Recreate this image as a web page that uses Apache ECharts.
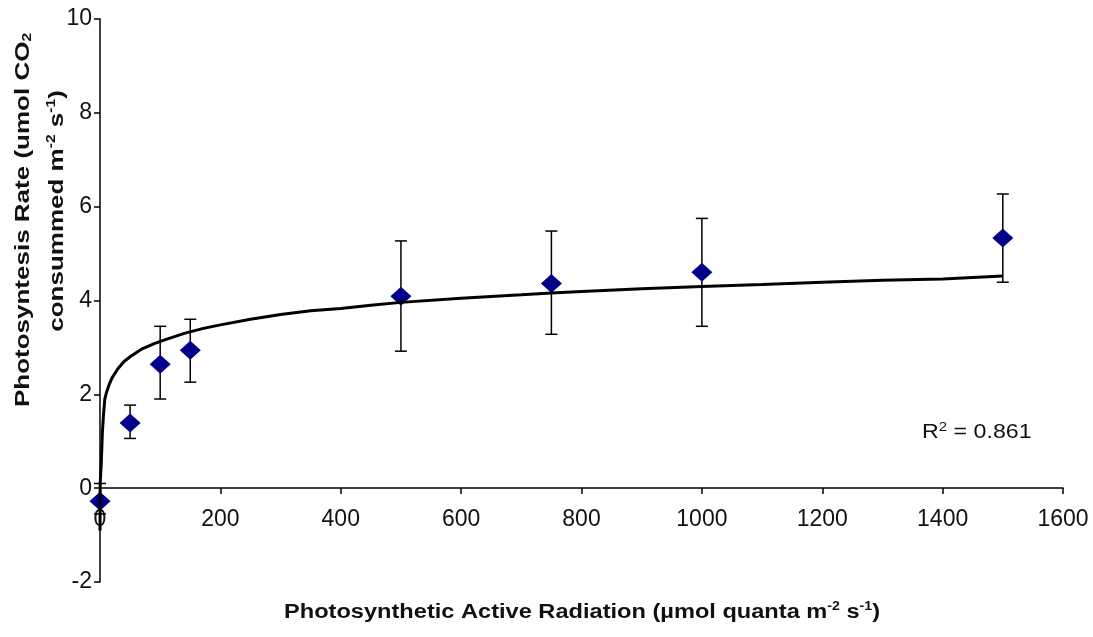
<!DOCTYPE html>
<html><head><meta charset="utf-8">
<script src="https://cdn.jsdelivr.net/npm/echarts@6/dist/echarts.min.js"></script>
<style>html,body{margin:0;padding:0;background:#fff}#c{width:1093px;height:637px}</style>
</head><body><div id="c"></div>
<script>
// Measured points
const parX = [0, 50, 100, 150, 500, 750, 1000, 1500];
const rateMean = [-0.28, 1.39, 2.64, 2.94, 4.09, 4.36, 4.60, 5.33];
const errLow = [-0.55, 1.06, 1.90, 2.26, 2.92, 3.28, 3.45, 4.39];
const errHigh = [0.10, 1.77, 3.45, 3.60, 5.27, 5.48, 5.75, 6.27];
// Trendline
const trendX = [0.02, 0.3, 2, 4, 6, 8, 11, 15, 20, 30, 40, 50, 70, 90, 110, 140, 170, 200, 250, 300, 350, 400, 450, 500, 600, 700, 750, 800, 900, 1000, 1100, 1200, 1300, 1400, 1500];
const trendY = [-0.9, 0.1, 0.5, 1.2, 1.6, 1.9, 2.05, 2.2, 2.35, 2.55, 2.7, 2.8, 2.97, 3.08, 3.17, 3.3, 3.4, 3.48, 3.6, 3.7, 3.78, 3.83, 3.9, 3.96, 4.05, 4.12, 4.16, 4.19, 4.25, 4.3, 4.34, 4.39, 4.43, 4.46, 4.52];
const xTicks = {min: 0, max: 1600, step: 200};
const yTicks = {min: -2, max: 10, step: 2};
const r2Label = 'R{sup|2} = 0.861';
const xTitle = 'Photosynthetic Active Radiation (\u00b5mol quanta m{sup|-2} s{sup|-1})';
const yTitle1 = 'Photosyntesis Rate (umol CO{sub|2}';
const yTitle2 = 'consummed m{sup|-2} s{sup|-1})';

const FONT = '"Liberation Sans", Arial, sans-serif';
const chart = echarts.init(document.getElementById('c'));
const supRich = {
  sup: {fontSize: 13, fontFamily: FONT, padding: [0, 0, 10, 0]},
  sub: {fontSize: 13, fontFamily: FONT, padding: [10, 0, 0, 0]}
};
const supRichBold = {
  sup: {fontSize: 12, fontWeight: 'bold', fontFamily: FONT, padding: [0, 0, 10, 0]},
  sub: {fontSize: 12, fontWeight: 'bold', fontFamily: FONT, padding: [10, 0, 0, 0]}
};
const option = {
  animation: false,
  backgroundColor: '#fff',
  grid: {left: 100, right: 30, top: 19, bottom: 55},
  xAxis: {
    type: 'value', min: xTicks.min, max: xTicks.max, interval: xTicks.step,
    offset: -94,
    axisLine: {onZero: false, lineStyle: {color: '#000', width: 1.5}},
    axisTick: {show: true, inside: false, length: 6, lineStyle: {color: '#000', width: 1.5}},
    axisLabel: {margin: 20, color: '#111', fontSize: 23, fontFamily: FONT, formatter: v => String(v)},
    splitLine: {show: false}
  },
  yAxis: {
    type: 'value', min: yTicks.min, max: yTicks.max, interval: yTicks.step,
    axisLine: {show: true, onZero: false, lineStyle: {color: '#000', width: 1.5}},
    axisTick: {show: true, inside: false, length: 6, lineStyle: {color: '#000', width: 1.5}},
    axisLabel: {margin: 8, color: '#111', fontSize: 23, fontFamily: FONT, formatter: v => String(v)},
    splitLine: {show: false}
  },
  graphic: [
    {type: 'text', x: 23, y: 220, rotation: Math.PI / 2, scaleX: 1.3,
     style: {text: yTitle1, rich: supRichBold, font: 'bold 20px ' + FONT, fill: '#111', align: 'center', verticalAlign: 'middle'}},
    {type: 'text', x: 57, y: 211, rotation: Math.PI / 2, scaleX: 1.3,
     style: {text: yTitle2, rich: supRichBold, font: 'bold 20px ' + FONT, fill: '#111', align: 'center', verticalAlign: 'middle'}},
    {type: 'text', x: 582, y: 612, scaleX: 1.18,
     style: {text: xTitle, rich: supRichBold, font: 'bold 20px ' + FONT, fill: '#111', align: 'center', verticalAlign: 'middle'}},
    {type: 'text', x: 922, y: 432, scaleX: 1.16,
     style: {text: r2Label, rich: supRich, font: '20px ' + FONT, fill: '#111', align: 'left', verticalAlign: 'middle'}}
  ],
  series: [
    {
      type: 'custom', name: 'err', z: 3,
      encode: {x: 0, y: [1, 2]},
      data: parX.map((x, i) => [x, errLow[i], errHigh[i]]),
      renderItem: function (params, api) {
        const x = api.value(0);
        const lo = api.coord([x, api.value(1)]);
        const hi = api.coord([x, api.value(2)]);
        const w = 6;
        const st = {stroke: '#000', lineWidth: 1.5};
        return {type: 'group', children: [
          {type: 'line', shape: {x1: lo[0], y1: lo[1], x2: hi[0], y2: hi[1]}, style: st},
          {type: 'line', shape: {x1: lo[0] - w, y1: lo[1], x2: lo[0] + w, y2: lo[1]}, style: st},
          {type: 'line', shape: {x1: hi[0] - w, y1: hi[1], x2: hi[0] + w, y2: hi[1]}, style: st}
        ]};
      }
    },
    {
      type: 'scatter', name: 'rate', z: 4,
      symbol: 'diamond', symbolSize: [21, 19],
      itemStyle: {color: '#00008b', opacity: 1},
      data: parX.map((x, i) => [x, rateMean[i]])
    },
    {
      type: 'line', name: 'trend', z: 5,
      showSymbol: false, smooth: false,
      lineStyle: {color: '#000', width: 3},
      data: trendX.map((x, i) => [x, trendY[i]])
    }
  ]
};
chart.setOption(option);
</script>
</body></html>
